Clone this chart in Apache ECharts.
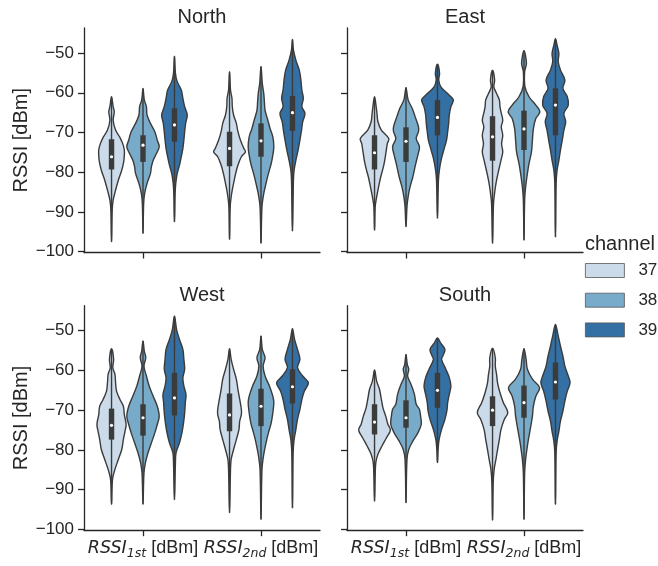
<!DOCTYPE html>
<html><head><meta charset="utf-8">
<script src="https://cdn.jsdelivr.net/npm/echarts@6/dist/echarts.min.js"></script>
<style>html,body{margin:0;padding:0;background:#fff}#c{width:658px;height:566px}</style>
</head><body><div id="c"></div>
<script>
const panels = ['North', 'East', 'West', 'South'];
const categories = ['1st', '2nd'];
const channels = ['37', '38', '39'];
const yTicks = [-100, -90, -80, -70, -60, -50];

// Violin profiles: index = category*3 + channel; points [RSSI dBm, relative density half-width]
const northProfiles = [
  [[-61.0,0],[-63.5,.10],[-64.8,.17],[-66.9,.10],[-69.4,.25],[-71.1,.50],[-72.8,.69],[-74.4,.79],[-75.7,.79],[-77.4,.75],[-79.5,.63],[-82.0,.42],[-84.5,.25],[-87.0,.10],[-89.6,.04],[-97.5,0]],
  [[-58.9,0],[-61.8,.08],[-63.5,.21],[-65.6,.25],[-67.7,.46],[-69.8,.73],[-71.9,.88],[-73.6,1.0],[-75.3,.83],[-77.0,.63],[-78.6,.52],[-80.3,.46],[-82.8,.25],[-85.4,.10],[-87.9,.04],[-95.4,0]],
  [[-50.8,0],[-55.1,.06],[-57.2,.17],[-59.3,.42],[-61.4,.52],[-63.5,.63],[-65.6,.79],[-67.7,.69],[-69.8,.63],[-71.9,.58],[-74.0,.52],[-76.1,.42],[-78.2,.31],[-80.3,.17],[-82.8,.08],[-85.4,.04],[-92.5,0]],
  [[-54.7,0],[-59.3,.06],[-61.4,.15],[-63.5,.17],[-65.6,.25],[-67.7,.42],[-69.8,.52],[-71.9,.67],[-74.0,.88],[-74.9,.98],[-76.1,.73],[-78.2,.52],[-80.3,.38],[-82.8,.25],[-85.4,.13],[-88.7,.04],[-96.9,0]],
  [[-53.4,0],[-57.6,.08],[-60.2,.17],[-62.3,.21],[-64.4,.25],[-66.9,.42],[-69.0,.56],[-71.1,.73],[-73.6,.79],[-75.7,.73],[-77.8,.63],[-80.3,.46],[-82.8,.31],[-85.4,.17],[-88.7,.06],[-97.9,0]],
  [[-46.6,0],[-49.2,.06],[-51.8,.21],[-54.3,.42],[-56.8,.52],[-59.3,.58],[-61.4,.67],[-63.5,.58],[-65.2,.77],[-67.3,.63],[-69.4,.56],[-71.9,.46],[-74.4,.35],[-77.0,.21],[-79.5,.10],[-82.0,.06],[-94.8,0]]
];
const eastProfiles = [
  [[-61.0,0],[-63.5,.10],[-65.2,.15],[-67.3,.21],[-69.4,.42],[-71.5,.88],[-72.8,.79],[-74.9,.71],[-77.0,.63],[-79.1,.52],[-81.2,.38],[-83.7,.25],[-86.2,.13],[-88.7,.04],[-94.6,0]],
  [[-58.7,0],[-61.8,.13],[-63.9,.38],[-66.0,.56],[-68.6,.77],[-69.8,.77],[-71.5,.63],[-73.6,.83],[-75.7,.73],[-78.2,.58],[-81.2,.42],[-83.7,.25],[-86.2,.13],[-88.7,.06],[-93.7,0]],
  [[-52.8,0],[-55.1,.13],[-56.8,.08],[-58.5,.21],[-60.6,.73],[-61.8,.98],[-63.5,.83],[-65.6,.73],[-67.7,.69],[-69.8,.63],[-71.9,.56],[-74.0,.42],[-76.5,.25],[-79.1,.13],[-82.0,.06],[-91.6,0]],
  [[-54.3,0],[-56.8,.13],[-58.5,.08],[-60.2,.25],[-61.8,.42],[-63.5,.46],[-64.8,.52],[-66.9,.63],[-68.6,.54],[-70.7,.63],[-72.8,.56],[-74.9,.63],[-77.0,.52],[-79.5,.38],[-82.0,.25],[-84.5,.15],[-87.9,.06],[-97.9,0]],
  [[-49.4,0],[-52.6,.15],[-54.7,.04],[-58.5,.06],[-61.0,.31],[-63.1,.73],[-64.8,.98],[-66.5,.73],[-69.0,.58],[-71.9,.52],[-74.9,.46],[-77.8,.31],[-80.3,.21],[-83.7,.10],[-87.0,.04],[-97.1,0]],
  [[-46.4,0],[-48.0,.10],[-50.1,.21],[-52.2,.17],[-54.3,.31],[-56.8,.58],[-58.9,.46],[-61.0,.73],[-63.1,.79],[-65.2,.52],[-67.3,.63],[-69.4,.52],[-71.9,.42],[-74.4,.31],[-77.0,.21],[-79.5,.10],[-82.8,.04],[-96.3,0]]
];
const westProfiles = [
  [[-54.5,0],[-57.2,.13],[-59.3,.08],[-61.0,.21],[-63.1,.25],[-65.2,.31],[-67.3,.52],[-69.0,.73],[-71.1,.79],[-73.6,.90],[-75.3,.83],[-77.4,.73],[-79.9,.63],[-82.4,.42],[-84.9,.21],[-87.4,.06],[-93.7,0]],
  [[-52.6,0],[-55.1,.08],[-56.8,.17],[-58.9,.06],[-61.4,.21],[-63.9,.38],[-66.5,.63],[-69.0,.88],[-71.5,1.0],[-73.6,.88],[-75.7,.73],[-78.2,.52],[-80.7,.31],[-83.2,.15],[-85.8,.06],[-93.7,0]],
  [[-46.3,0],[-49.7,.13],[-52.2,.31],[-54.7,.52],[-57.2,.58],[-59.7,.63],[-61.8,.52],[-63.9,.58],[-66.0,.71],[-68.1,.67],[-70.6,.63],[-73.2,.56],[-75.7,.46],[-78.2,.31],[-80.7,.10],[-83.2,.06],[-92.5,0]],
  [[-54.5,0],[-57.2,.10],[-59.7,.25],[-62.2,.42],[-64.8,.52],[-67.3,.63],[-69.8,.73],[-71.1,.73],[-72.7,.63],[-74.9,.58],[-77.4,.42],[-79.9,.25],[-82.4,.10],[-84.9,.06],[-95.8,0]],
  [[-51.3,0],[-54.7,.08],[-56.8,.25],[-58.9,.13],[-61.4,.25],[-63.9,.52],[-66.5,.73],[-68.1,.79],[-70.6,.73],[-73.2,.63],[-75.7,.46],[-78.2,.31],[-81.6,.15],[-84.9,.06],[-97.5,0]],
  [[-49.5,0],[-52.2,.13],[-54.7,.31],[-57.2,.46],[-59.3,.31],[-61.4,.63],[-63.1,.98],[-65.2,.73],[-67.3,.58],[-69.8,.46],[-72.3,.31],[-74.9,.21],[-77.4,.10],[-80.7,.04],[-94.6,0]]
];
const southProfiles = [
  [[-59.9,0],[-62.7,.13],[-64.8,.31],[-67.3,.42],[-69.4,.52],[-71.5,.69],[-73.6,.83],[-75.0,.98],[-77.0,.73],[-79.0,.46],[-81.1,.21],[-83.2,.08],[-86.6,.04],[-92.9,0]],
  [[-56.0,0],[-58.5,.08],[-59.7,.17],[-61.4,.10],[-63.5,.31],[-66.0,.52],[-68.5,.63],[-69.8,.83],[-71.5,.90],[-73.6,.94],[-75.7,.73],[-77.8,.42],[-79.9,.17],[-82.4,.06],[-93.3,0]],
  [[-51.8,0],[-53.2,.21],[-54.7,.46],[-56.2,.35],[-57.2,.25],[-59.7,.52],[-61.8,.73],[-63.9,.83],[-66.0,.73],[-68.1,.63],[-70.2,.58],[-72.3,.46],[-74.9,.25],[-77.4,.10],[-79.9,.04],[-83.2,0]],
  [[-54.4,0],[-56.8,.17],[-58.9,.17],[-61.0,.25],[-63.1,.31],[-65.6,.46],[-68.1,.67],[-70.6,.94],[-72.3,.73],[-74.9,.52],[-77.4,.42],[-79.9,.31],[-82.4,.21],[-84.9,.10],[-88.3,.04],[-97.7,0]],
  [[-54.5,0],[-57.2,.13],[-59.7,.21],[-62.2,.52],[-64.3,.96],[-66.5,.73],[-69.0,.58],[-71.5,.52],[-74.0,.42],[-76.5,.31],[-79.0,.21],[-82.4,.10],[-85.8,.04],[-97.5,0]],
  [[-48.4,0],[-51.3,.17],[-53.9,.31],[-56.4,.46],[-58.9,.58],[-61.4,.79],[-63.1,.90],[-65.2,.73],[-67.7,.58],[-70.2,.46],[-72.7,.31],[-75.3,.21],[-77.8,.10],[-80.7,.04],[-93.7,0]]
];

// Inner boxes: [whisker low, Q1, median, Q3, whisker high]
const northBoxes = [
  [-97.5,-79.3,-76.1,-71.7,-61.0], [-95.4,-77.4,-73.2,-70.7,-58.9], [-92.5,-72.3,-68.1,-63.9,-50.8],
  [-96.9,-78.5,-74.0,-69.8,-54.7], [-97.9,-76.1,-72.1,-67.7,-53.4], [-94.8,-69.6,-65.0,-60.8,-46.6]
];
const eastBoxes = [
  [-94.6,-79.3,-75.1,-70.7,-61.0], [-93.7,-77.4,-72.2,-68.7,-58.7], [-91.6,-70.7,-66.2,-61.8,-52.8],
  [-97.9,-77.1,-71.1,-65.9,-54.3], [-97.1,-74.4,-69.1,-64.5,-49.4], [-96.3,-70.7,-63.1,-58.9,-46.4]
];
const westBoxes = [
  [-93.7,-77.4,-73.8,-69.6,-54.5], [-93.7,-76.4,-71.9,-68.5,-52.6], [-92.5,-71.3,-66.9,-60.6,-46.3],
  [-95.8,-75.3,-71.2,-65.8,-54.5], [-97.5,-74.0,-69.0,-64.6,-51.3], [-94.6,-68.3,-64.1,-59.7,-49.5]
];
const southBoxes = [
  [-92.9,-76.1,-73.0,-68.5,-59.9], [-93.3,-74.4,-71.9,-67.5,-56.0], [-83.2,-69.4,-65.0,-60.6,-51.8],
  [-97.7,-74.0,-70.0,-66.5,-54.4], [-97.5,-71.9,-68.1,-63.8,-54.5], [-93.7,-67.3,-62.9,-58.0,-48.4]
];

const panelProfiles = [northProfiles, eastProfiles, westProfiles, southProfiles];
const panelBoxes = [northBoxes, eastBoxes, westBoxes, southBoxes];

const palette = ['#cbdbea', '#78abc9', '#3470a3'];
const ink = '#262626';
const gray = '#3b3b3b';

const grids = [
  {left: 84, top: 28, width: 236, height: 224.5},
  {left: 347, top: 28, width: 236, height: 224.5},
  {left: 84, top: 305.7, width: 236, height: 224.5},
  {left: 347, top: 305.7, width: 236, height: 224.5}
];

function minusFmt(v) { return String(v).replace('-', '\u2212'); }

const xAxes = [], yAxes = [], titles = [], series = [];
for (let p = 0; p < 4; p++) {
  const bottomRow = p >= 2, leftCol = p % 2 === 0;
  xAxes.push({
    type: 'category', gridIndex: p, data: categories,
    axisLine: {lineStyle: {color: ink, width: 1.3}},
    axisTick: {show: true, alignWithLabel: true, length: 6, lineStyle: {color: ink, width: 1.3}},
    axisLabel: {
      show: bottomRow, interval: 0, margin: 6, color: ink,
      formatter: v => '{i|RSSI}{s|' + v + '}{n| [dBm]}',
      rich: {
        i: {fontFamily: 'DejaVu Sans', fontStyle: 'italic', fontSize: 17.5, lineHeight: 24, color: ink},
        s: {fontFamily: 'DejaVu Sans', fontStyle: 'italic', fontSize: 12.5, lineHeight: 9, verticalAlign: 'bottom', color: ink},
        n: {fontFamily: 'Liberation Sans', fontSize: 18, lineHeight: 24, color: ink}
      }
    },
    splitLine: {show: false}
  });
  yAxes.push({
    type: 'value', gridIndex: p, min: -100.2, max: -43.7,
    name: leftCol ? 'RSSI [dBm]' : '', nameLocation: 'middle', nameGap: 52,
    nameTextStyle: {fontSize: 20, color: ink, fontFamily: 'Liberation Sans'},
    axisLine: {show: true, lineStyle: {color: ink, width: 1.3}},
    axisTick: {show: true, length: 6, customValues: yTicks, lineStyle: {color: ink, width: 1.3}},
    axisLabel: {show: leftCol, customValues: yTicks, fontSize: 17, margin: 10, color: ink, fontFamily: 'Liberation Sans', formatter: minusFmt},
    splitLine: {show: false}
  });
  const g = grids[p];
  titles.push({
    text: panels[p], left: g.left + g.width / 2, top: g.top - 20.5, textAlign: 'center', padding: 0,
    textStyle: {fontSize: 20, fontWeight: 'normal', color: ink, fontFamily: 'Liberation Sans'}
  });
  for (let k = 0; k < 3; k++) {
    const profiles = panelProfiles[p], boxes = panelBoxes[p];
    series.push({
      type: 'custom', name: channels[k], xAxisIndex: p, yAxisIndex: p,
      itemStyle: {color: palette[k]},
      data: categories.map((c, ci) => [ci, boxes[ci * 3 + k][2]]),
      renderItem: function (params, api) {
        const ci = params.dataIndex;
        const prof = profiles[ci * 3 + k];
        const box = boxes[ci * 3 + k];
        const band = api.size([1, 0])[0];
        const cx = api.coord([ci, -70])[0] + (k - 1) * band * 0.8 / 3;
        const hw = band * 0.8 / 3 / 2 * 1.03;
        const yy = v => api.coord([ci, v])[1];
        const right = prof.map(d => [cx + d[1] * hw, yy(d[0])]);
        const left = prof.slice(1, -1).reverse().map(d => [cx - d[1] * hw, yy(d[0])]);
        const pts = right.concat(left);
        return {
          type: 'group',
          children: [
            {type: 'polygon', shape: {points: pts, smooth: 0.35}, style: {fill: palette[k], stroke: gray, lineWidth: 1.4}},
            {type: 'line', shape: {x1: cx, y1: yy(box[0]), x2: cx, y2: yy(box[4])}, style: {stroke: gray, lineWidth: 1.4}},
            {type: 'rect', shape: {x: cx - 2.7, y: yy(box[3]), width: 5.4, height: yy(box[1]) - yy(box[3])}, style: {fill: gray}},
            {type: 'circle', shape: {cx: cx, cy: yy(box[2]), r: 1.6}, style: {fill: '#ffffff'}}
          ]
        };
      }
    });
  }
}
titles.push({
  text: 'channel', left: 585, top: 234, padding: 0,
  textStyle: {fontSize: 20, fontWeight: 'normal', color: ink, fontFamily: 'Liberation Sans'}
});

const chart = echarts.init(document.getElementById('c'), null, {renderer: 'canvas'});
chart.setOption({
  animation: false,
  backgroundColor: '#ffffff',
  textStyle: {fontFamily: 'Liberation Sans'},
  title: titles,
  grid: grids,
  xAxis: xAxes,
  yAxis: yAxes,
  legend: {
    data: channels, orient: 'vertical', left: 585, top: 262, padding: 0,
    itemWidth: 39, itemHeight: 14, itemGap: 12.7, icon: 'rect',
    itemStyle: {borderColor: '#555555', borderWidth: 0.8},
    textStyle: {fontSize: 17, color: ink, lineHeight: 14, padding: [0, 0, 0, 9], fontFamily: 'Liberation Sans'},
    selectedMode: false
  },
  series: series
});
</script>
</body></html>
